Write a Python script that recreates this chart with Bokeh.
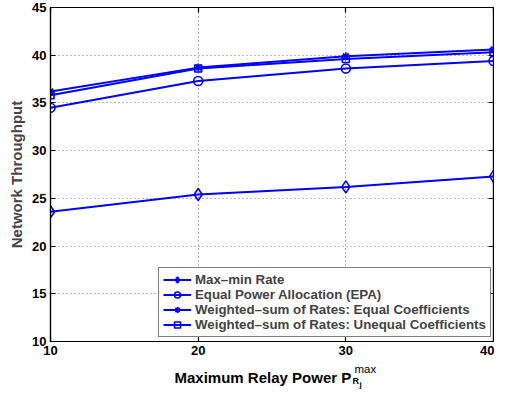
from bokeh.plotting import figure
from bokeh.models import FixedTicker, Range1d, LinearAxis
from bokeh.layouts import column
from bokeh.core.properties import value
from bokeh.embed import file_html
from bokeh.resources import INLINE

power = [10, 20, 30, 40]
maxmin = [23.6, 25.4, 26.2, 27.3]
epa = [34.5, 37.3, 38.6, 39.4]
wsr_equal = [36.2, 38.7, 39.9, 40.6]
wsr_unequal = [35.8, 38.6, 39.6, 40.3]
x_ticks = [10, 20, 30, 40]
y_ticks = [10, 15, 20, 25, 30, 35, 40, 45]

names = ["Max\u2013min Rate", "Equal Power Allocation (EPA)",
         "Weighted\u2013sum of Rates: Equal Coefficients",
         "Weighted\u2013sum of Rates: Unequal Coefficients"]
xlabel_parts = ["Maximum Relay Power P", "max", "R", "j"]

FONT = "Liberation Sans"
BLUE = "#0000ff"

p = figure(width=494, height=362, output_backend="svg", toolbar_location=None,
           x_range=Range1d(10, 40), y_range=Range1d(10, 45),
           min_border_left=50, min_border_right=1, min_border_top=7, min_border_bottom=21)
p.background_fill_color = "white"
p.border_fill_color = "white"
p.outline_line_color = "black"
p.outline_line_width = 1.2

series = [(maxmin, "diamond", 12), (epa, "circle", 9), (wsr_equal, "asterisk", 8), (wsr_unequal, "square", 7)]
for (vals, mk, sz), name in zip(series, names):
    p.line(power, vals, line_color=BLUE, line_width=2, legend_label=name)
    p.scatter(power, vals, marker=mk, size=sz, line_color=BLUE, fill_color=None,
              line_width=1.6, legend_label=name)

# box ticks on the right and top
p.add_layout(LinearAxis(), "right")
p.add_layout(LinearAxis(), "above")

for ax in p.axis:
    ax.major_label_text_font = FONT
    ax.major_label_text_font_style = "bold"
    ax.major_label_text_font_size = "13px"
    ax.major_label_text_color = "black"
    ax.major_tick_in = 5
    ax.major_tick_out = 0
    ax.minor_tick_in = 0
    ax.minor_tick_out = 0
    ax.axis_line_color = "black"
    ax.axis_line_width = 1.2
    ax.major_tick_line_width = 1.2
    ax.major_label_standoff = 4

p.xaxis.ticker = FixedTicker(ticks=x_ticks)
p.yaxis.ticker = FixedTicker(ticks=y_ticks)
for ax in (p.right[0], p.above[0]):
    ax.major_label_text_font_size = "0px"
    ax.major_label_standoff = 0
    ax.major_label_text_alpha = 0

p.yaxis[0].axis_label = "Network Throughput"
p.yaxis[0].axis_label_text_font = FONT
p.yaxis[0].axis_label_text_font_style = "bold"
p.yaxis[0].axis_label_text_font_size = "15px"
p.yaxis[0].axis_label_standoff = 4

for g in (p.xgrid[0], p.ygrid[0]):
    g.grid_line_color = "#777777"
    g.grid_line_dash = "1 3"
    g.grid_line_width = 1

lg = p.legend[0]
lg.location = (108, 4)
lg.border_line_color = "black"
lg.border_line_width = 1.5
lg.background_fill_color = "white"
lg.background_fill_alpha = 1
lg.label_text_font = FONT
lg.label_text_font_style = "bold"
lg.label_text_font_size = "13.3px"
lg.glyph_width = 28
lg.glyph_height = 15
lg.label_height = 15
lg.spacing = 0
lg.padding = 4
lg.label_standoff = 4

# x axis title with superscript / subscripts, in a thin strip below
q = figure(width=494, height=27, output_backend="svg", toolbar_location=None,
           x_range=Range1d(50, 493), y_range=Range1d(0, 27),
           x_axis_type=None, y_axis_type=None,
           min_border_left=50, min_border_right=1, min_border_top=0, min_border_bottom=0)
q.outline_line_color = None
q.grid.visible = False
q.background_fill_color = "white"
q.border_fill_color = "white"
styles = [(174, 12, "15px", "bold"), (354, 21, "11.5px", "normal"),
          (352, 8.5, "9px", "bold"), (359, 5.5, "8px", "bold")]
for txt, (tx, ty, fs, fw) in zip(xlabel_parts, styles):
    q.text(x=[tx], y=[ty], text=[txt], text_font=value(FONT), text_font_size=fs,
           text_font_style=fw, text_baseline="alphabetic", text_align="left",
           text_color="black")

layout = column(p, q, spacing=0)
open("out.html", "w").write(file_html(layout, INLINE))
